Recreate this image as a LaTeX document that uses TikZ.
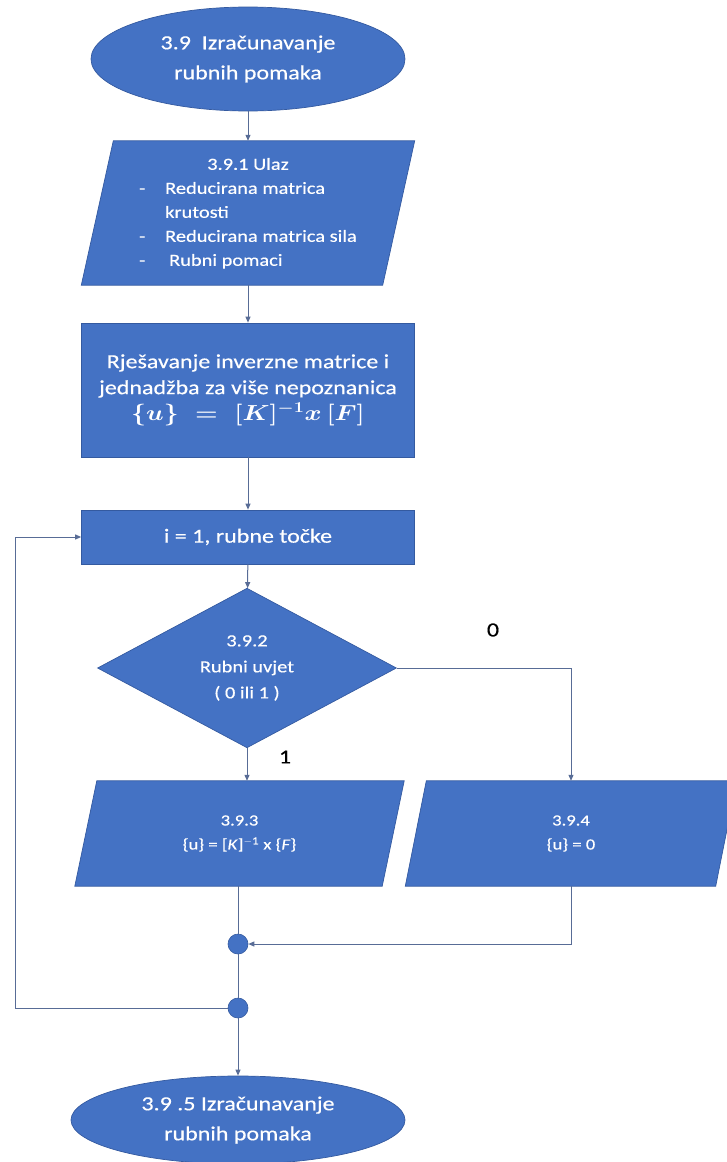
\documentclass[tikz,border=0pt]{standalone}
\usepackage{fontspec}
\usepackage{graphicx}
\setmainfont{Carlito}[FakeStretch=1.2,FakeBold=0.4]
\usetikzlibrary{shapes.geometric,arrows.meta,backgrounds}
\definecolor{boxblue}{RGB}{68,114,196}
\definecolor{boxedge}{RGB}{52,90,160}
\definecolor{connc}{RGB}{88,108,150}
\tikzset{
  boxfill/.style={fill=boxblue,draw=boxedge,line width=0.7pt},
  blk/.style={boxfill,text=white,inner sep=0pt,align=center},
  term/.style={blk,ellipse,font=\fontsize{20}{30}\selectfont},
  procbox/.style={blk,rectangle},
  parabox/.style={rectangle,inner sep=0pt,text=white,align=center},
  decision/.style={blk,diamond,font=\fontsize{17}{26}\selectfont},
  junction/.style={circle,fill=boxblue,draw=boxedge,line width=0.6pt,minimum size=20pt,inner sep=0pt},
  conn/.style={draw=connc,line width=1pt},
  arr/.style={conn,-{Triangle[length=6pt,width=5pt]}},
  lbl/.style={text=black,font=\fontsize{20}{24}\selectfont,inner sep=0pt}
}
\newcommand{\parashape}[2]{\path[boxfill] ([xshift=#2]#1.north west) -- ([xshift=#2]#1.north east) -- ([xshift=-#2]#1.south east) -- ([xshift=-#2]#1.south west) -- cycle;}
\begin{document}
\begin{tikzpicture}[x=1pt,y=-1pt]
\useasboundingbox (0,0) rectangle (726,1162);
\clip (0,0) rectangle (726,1162);

\node[term,minimum width=314pt,minimum height=104pt] (start) at (248,59) {3.9\ \ Izračunavanje\\rubnih pomaka};

\node[parabox,minimum width=301pt,minimum height=144pt,font=\fontsize{17}{24}\selectfont] (in1) at (248,213)
 {\begin{tabular}{@{}p{26pt}@{}l@{}}
  \multicolumn{2}{c}{3.9.1 Ulaz}\\
  - & Reducirana matrica\\
    & krutosti\\
  - & Reducirana matrica sila\\
  - & \hspace{4pt}Rubni pomaci
  \end{tabular}};

\node[procbox,minimum width=333pt,minimum height=134pt,font=\fontsize{20}{26}\selectfont] (solve) at (248,390)
 {Rješavanje inverzne matrice i\\jednadžba za više nepoznanica\\\scalebox{1.25}[1.05]{\boldmath$\{u\}\;=\;[K]^{-1}x\,[F]$}};

\node[procbox,minimum width=333pt,minimum height=54pt,font=\fontsize{20}{24}\selectfont] (init) at (248,537) {i = 1, rubne točke};

\node[decision,minimum width=299pt,minimum height=146pt] (dec) at (247,668) {3.9.2\\Rubni uvjet\\( 0 ili 1 )};

\node[parabox,minimum width=307pt,minimum height=105pt,font=\fontsize{15.5}{24}\selectfont] (p393) at (239.5,833.5)
 {3.9.3\\\{u\} = [\textit{K}]\textsuperscript{$-$1} x \{\textit{F}\}};

\node[parabox,minimum width=310pt,minimum height=105pt,font=\fontsize{15.5}{24}\selectfont] (p394) at (571,833.5)
 {3.9.4\\\{u\} = 0};

\node[junction] (c1) at (238,944) {};
\node[junction] (c2) at (238,1008) {};

\node[term,minimum width=334pt,minimum height=88pt] (end) at (238,1120) {3.9 .5 Izračunavanje\\rubnih pomaka};

\node[lbl] (l0) at (493,630) {0};
\node[lbl] (l1) at (285,757) {1};

\coordinate (loopx) at (15,0);

\begin{scope}[on background layer]
  \parashape{in1}{16pt}
  \parashape{p393}{11pt}
  \parashape{p394}{10.5pt}
\end{scope}

\draw[arr] (start) -- (in1);
\draw[arr] (in1) -- (solve);
\draw[arr] (solve) -- (init);
\draw[arr] (init) -- (dec);
\draw[arr] (dec.south) -- (dec.south |- p393.north);
\draw[arr] (dec.east) -| (p394.north);
\draw[conn] (c1 |- p393.south) -- (c1.north);
\draw[arr] (p394.south) |- (c1.east);
\draw[conn] (c1) -- (c2);
\draw[arr] (c2.south) -- (c2.south |- end.north);
\draw[arr] (c2.west) -- (c2.west -| loopx) -- (init.west -| loopx) -- (init.west);
\end{tikzpicture}
\end{document}
